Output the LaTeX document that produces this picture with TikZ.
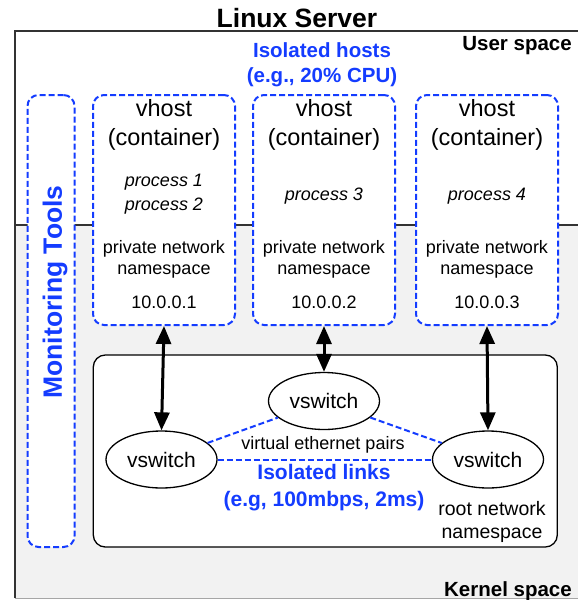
\documentclass[tikz,border=0pt]{standalone}
\usepackage{fontspec}
\setmainfont{Liberation Sans}
\usetikzlibrary{shapes.geometric,arrows.meta}

\definecolor{hostblue}{RGB}{20,60,255}
\definecolor{kernelgray}{RGB}{242,242,242}
\definecolor{framegray}{RGB}{51,51,51}

\newcommand{\fsz}[1]{\fontsize{#1}{#1}\selectfont}

\tikzset{
  bluedash/.style={draw=hostblue, line width=2pt, dash pattern=on 6pt off 3pt},
  hostbox/.style={bluedash, rounded corners=11pt, fill=white,
    minimum width=142pt, minimum height=230pt, inner sep=0pt},
  monbox/.style={bluedash, rounded corners=11pt, fill=white,
    minimum width=47pt, minimum height=452pt, inner sep=0pt},
  kernelbox/.style={draw=black, line width=1.3pt, rounded corners=12pt, fill=white,
    minimum width=464pt, minimum height=192pt, inner sep=0pt},
  switchnode/.style={ellipse, draw=black, line width=1.3pt, fill=white,
    minimum width=111pt, minimum height=57pt, inner sep=0pt, font=\fsz{21}},
  hostname/.style={align=center, font=\fontsize{23.5}{29}\selectfont, inner sep=0pt},
  proctxt/.style={font=\fsz{18}\itshape, inner sep=0pt},
  smalltxt/.style={align=center, font=\fontsize{18}{21}\selectfont, inner sep=0pt},
  bluelabel/.style={align=center, text=hostblue, inner sep=0pt},
  spacelabel/.style={font=\fsz{20.5}\bfseries, inner sep=0pt, anchor=east},
  linkarrow/.style={<->, line width=3pt},
}

\begin{document}
\begin{tikzpicture}[x=1pt, y=-1pt, >={Triangle[width=15pt,length=18pt]}]
  \useasboundingbox (0,0) rectangle (578,600);
  \clip (0,0) rectangle (578,600);

  % Server frame with user and kernel space
  \fill[kernelgray] (15,225) rectangle (600,598);
  \draw[gray!70, line width=1pt] (15,598) -- (600,598);
  \draw[framegray, line width=2pt] (15,598) -- (15,31) -- (600,31);
  \draw[framegray, line width=2pt] (15,225) -- (600,225);
  \node[font=\fsz{26.5}\bfseries, inner sep=0pt] (title) at (297,18) {Linux Server};
  \node[spacelabel] (user) at (572,46) {User space};
  \node[spacelabel] (kernel) at (572,591) {Kernel space};

  % Isolated hosts
  \node[bluelabel, font=\fontsize{20.5}{25}\bfseries] (hostlbl) at (322,65) {Isolated hosts\\(e.g., 20\% CPU)};

  % Monitoring tools
  \node[monbox] (mon) at (51,321) {};
  \node[bluelabel, font=\fsz{26.5}\bfseries, rotate=90] (montxt) at (55,292) {Monitoring Tools};

  % vhosts
  \node[hostbox] (vh1) at (164,210) {};
  \node[hostbox] (vh2) at (324,210) {};
  \node[hostbox] (vh3) at (487,210) {};

  \node[hostname] (name1) at (164,125) {vhost\\(container)};
  \node[hostname] (name2) at (324,125) {vhost\\(container)};
  \node[hostname] (name3) at (487,125) {vhost\\(container)};

  \node[proctxt] (p1) at (164,182.5) {process 1};
  \node[proctxt] (p2) at (164,206.5) {process 2};
  \node[proctxt] (p3) at (324,196.5) {process 3};
  \node[proctxt] (p4) at (487,196.5) {process 4};

  \node[smalltxt] (ns1) at (164,259.5) {private network\\namespace};
  \node[smalltxt] (ns2) at (324,259.5) {private network\\namespace};
  \node[smalltxt] (ns3) at (487,259.5) {private network\\namespace};

  \node[smalltxt] (ip1) at (164,302) {10.0.0.1};
  \node[smalltxt] (ip2) at (324,302) {10.0.0.2};
  \node[smalltxt] (ip3) at (487,302) {10.0.0.3};

  % Root network namespace
  \node[kernelbox] (kern) at (325.3,451) {};
  \node[switchnode] (sw1) at (161.5,459.5) {vswitch};
  \node[switchnode] (sw2) at (324,401) {vswitch};
  \node[switchnode] (sw3) at (488,459.5) {vswitch};

  \draw[bluedash] (sw1) -- (sw2);
  \draw[bluedash] (sw2) -- (sw3);
  \draw[bluedash] (sw1) -- (sw3);

  \node[smalltxt] (veth) at (323,445) {virtual ethernet pairs};
  \node[bluelabel, font=\fontsize{21}{27}\bfseries] (linklbl) at (324,488) {Isolated links\\(e.g, 100mbps, 2ms)};
  \node[smalltxt, font=\fontsize{19.5}{23}\selectfont] (rootns) at (492,522) {root network\\namespace};

  % Links between vhosts and switches
  \draw[linkarrow] (vh1.south) -- (sw1.north);
  \draw[linkarrow] (vh2.south) -- (sw2.north);
  \draw[linkarrow] (vh3.south) -- (sw3.north);
\end{tikzpicture}
\end{document}
